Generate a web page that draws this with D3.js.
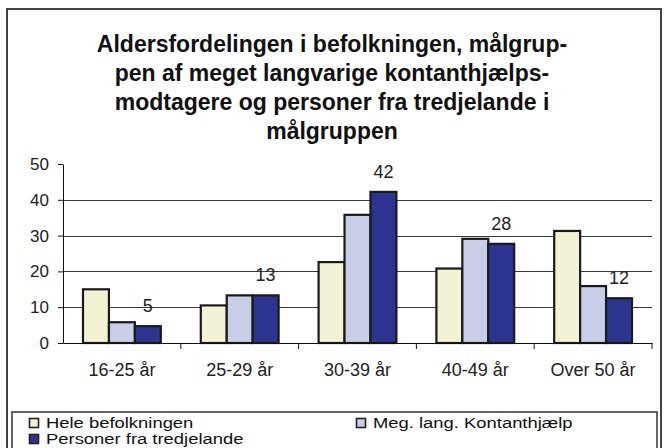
<!DOCTYPE html>
<html><head><meta charset="utf-8">
<script src="https://cdn.jsdelivr.net/npm/d3@7"></script>
<style>body{margin:0;background:#fff}svg{display:block}text{font-family:"Liberation Sans",Arial,sans-serif}</style>
</head><body>
<script>
const titleLines = ["Aldersfordelingen i befolkningen, målgrup-","pen af meget langvarige kontanthjælps-","modtagere og personer fra tredjelande i","målgruppen"];
const categories = ["16-25 år","25-29 år","30-39 år","40-49 år","Over 50 år"];
const seriesNames = ["Hele befolkningen","Meg. lang. Kontanthjælp","Personer fra tredjelande"];
const hele = [15.0, 10.5, 22.6, 20.8, 31.3];
const megLang = [5.8, 13.3, 35.8, 29.1, 15.9];
const tredjelande = [4.7, 13.3, 42.2, 27.7, 12.5];
const dataLabels = ["5","13","42","28","12"];
const yTicks = [0,10,20,30,40,50];
const colors = ["#F4F2D4","#C9CEE8","#2D3490"];

const W=664,H=448;
const svg=d3.select("body").append("svg").attr("width",W).attr("height",H);
// outer frame
svg.append("rect").attr("x",7).attr("y",9).attr("width",654).attr("height",460)
  .attr("fill","none").attr("stroke","#444").attr("stroke-width",2);
// title
svg.append("g").selectAll("text").data(titleLines).join("text")
  .attr("x",332).attr("y",(d,i)=>52+i*29).attr("text-anchor","middle")
  .attr("font-size",23).attr("font-weight","bold").attr("fill","#111").text(d=>d);

const x0=d3.scaleBand().domain(categories).range([63,652]);
const x1=d3.scaleBand().domain(seriesNames).range([20,x0.bandwidth()-20]);
const y=d3.scaleLinear().domain([0,50]).range([343,164]);

// grid
svg.append("g").selectAll("line").data(yTicks.filter(t=>t>0&&t<50)).join("line")
  .attr("x1",63).attr("x2",652).attr("y1",d=>Math.round(y(d))+0.5).attr("y2",d=>Math.round(y(d))+0.5)
  .attr("stroke","#3a3a3a").attr("stroke-width",1);

const series=[hele,megLang,tredjelande];
const g=svg.append("g");
categories.forEach((c,ci)=>{
  g.append("g").selectAll("rect").data(series.map((s,si)=>({si,v:s[ci]}))).join("rect")
   .attr("x",d=>x0(c)+x1(seriesNames[d.si])).attr("y",d=>y(d.v))
   .attr("width",x1.bandwidth()).attr("height",d=>y(0)-y(d.v))
   .attr("fill",d=>colors[d.si]).attr("stroke","#1a1a1a").attr("stroke-width",2.2);
});
// data labels
svg.append("g").selectAll("text").data(categories).join("text")
  .attr("x",(c)=>x0(c)+x1(seriesNames[2])+x1.bandwidth()/2)
  .attr("y",(c,i)=>y(tredjelande[i])-14).attr("text-anchor","middle")
  .attr("font-size",18).attr("fill","#222").text((c,i)=>dataLabels[i]);

// y axis
const ya=svg.append("g").attr("transform","translate(63,0)").call(d3.axisLeft(y).tickValues(yTicks).tickSize(5).tickSizeOuter(0));
ya.select(".domain").attr("stroke","#111");
ya.selectAll(".tick line").attr("stroke","#111");
ya.selectAll(".tick text").attr("font-size",17).attr("fill","#222").attr("font-family","Liberation Sans, Arial, sans-serif").attr("x",-14);
// x axis
const xa=svg.append("g").attr("transform","translate(0,343)").call(d3.axisBottom(x0).tickSize(0).tickSizeOuter(0));
xa.select(".domain").attr("stroke","#111");
xa.selectAll(".tick text").attr("font-size",18).attr("fill","#222").attr("font-family","Liberation Sans, Arial, sans-serif").attr("dy",0).attr("y",33);
svg.append("g").selectAll("line").data(categories.map(c=>x0(c)+x0.bandwidth())).join("line")
  .attr("x1",d=>d).attr("x2",d=>d).attr("y1",343).attr("y2",349).attr("stroke","#111");

// legend
svg.append("rect").attr("x",12).attr("y",412).attr("width",645).attr("height",60)
  .attr("fill","none").attr("stroke","#333").attr("stroke-width",1.5);
const legPos=[[29,428],[356,428],[29,444]];
const lg=svg.append("g").selectAll("g").data(seriesNames).join("g")
  .attr("transform",(d,i)=>`translate(${legPos[i][0]},${legPos[i][1]})`);
lg.append("rect").attr("x",0.5).attr("y",-9.5).attr("width",9).attr("height",9)
  .attr("fill",(d,i)=>colors[i]).attr("stroke","#222").attr("stroke-width",1.6);
lg.append("text").attr("transform","translate(17,0) scale(1.27,1)").attr("font-size",14.5).attr("fill","#111").text(d=>d);
</script>
</body></html>
